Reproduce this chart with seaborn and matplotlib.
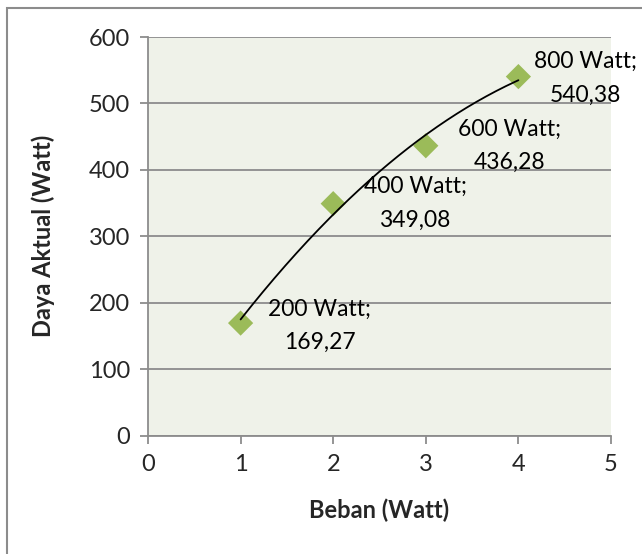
import numpy as np
import pandas as pd
import matplotlib
matplotlib.use("Agg")
import matplotlib.pyplot as plt
import seaborn as sns
from matplotlib.patches import Rectangle

# Data
beban = [1, 2, 3, 4]
daya = [169.27, 349.08, 436.28, 540.38]
label_names = ["200 Watt", "400 Watt", "600 Watt", "800 Watt"]
label_values = ["169,27", "349,08", "436,28", "540,38"]
x_ticks = [0, 1, 2, 3, 4, 5]
y_ticks = [0, 100, 200, 300, 400, 500, 600]

# label offsets (points) -- style only
label_dx = [57, 59, 60, 48]
label_dy = [-2, 0, 0, -1]

sns.set_style("white")
plt.rcParams['font.family'] = ['Lato', 'DejaVu Sans']

fig = plt.figure(figsize=(6.42, 5.54), dpi=100)
ax = fig.add_axes([148/642, 1-435.5/554, (611-148)/642, (435.5-37)/554])

df = pd.DataFrame({"Beban": beban, "Daya": daya})

ax.set_facecolor("#EFF2E9")
grid_c = "#8C8C8C"
for yv in y_ticks:
    ax.axhline(yv, color=grid_c, lw=1.3, zorder=0)

# Trendline (2nd order polynomial fit)
coef = np.polyfit(beban, daya, 2)
xs = np.linspace(min(beban), max(beban), 200)
ax.plot(xs, np.polyval(coef, xs), color="black", lw=1.3, zorder=3)

sns.scatterplot(data=df, x="Beban", y="Daya", marker="D", s=165, color="#9BBB59",
                edgecolor="none", ax=ax, zorder=2, legend=False)

for xv, yv, n, v, dx, dy in zip(beban, daya, label_names, label_values, label_dx, label_dy):
    ax.annotate(f"{n};\n{v}", (xv, yv), xytext=(dx, dy), textcoords="offset points",
                ha="center", va="center", fontsize=16.5, linespacing=1.75, color="black", zorder=4,
                annotation_clip=False)

ax.set_xlim(0, 5)
ax.set_ylim(0, 600)
ax.set_xticks(x_ticks)
ax.set_yticks(y_ticks)
ax.tick_params(axis="both", direction="out", length=6, width=1.3, color=grid_c,
               labelsize=17, pad=7, bottom=True, left=True)
for s in ["top", "right"]:
    ax.spines[s].set_visible(False)
for s in ["left", "bottom"]:
    ax.spines[s].set_color(grid_c)
    ax.spines[s].set_linewidth(1.3)

ax.set_xlabel("Beban (Watt)", fontsize=17, fontweight="bold", labelpad=17)
ax.set_ylabel("Daya Aktual (Watt)", fontsize=17, fontweight="bold", labelpad=24)

# Outer chart border
fig.patches.append(Rectangle((7/642, -0.1), 1.0, 1.1 - 8/554, transform=fig.transFigure,
                             fill=False, edgecolor="#8C8C8C", lw=1.5, clip_on=False))

fig.savefig("out.png", dpi=100, facecolor="white")
